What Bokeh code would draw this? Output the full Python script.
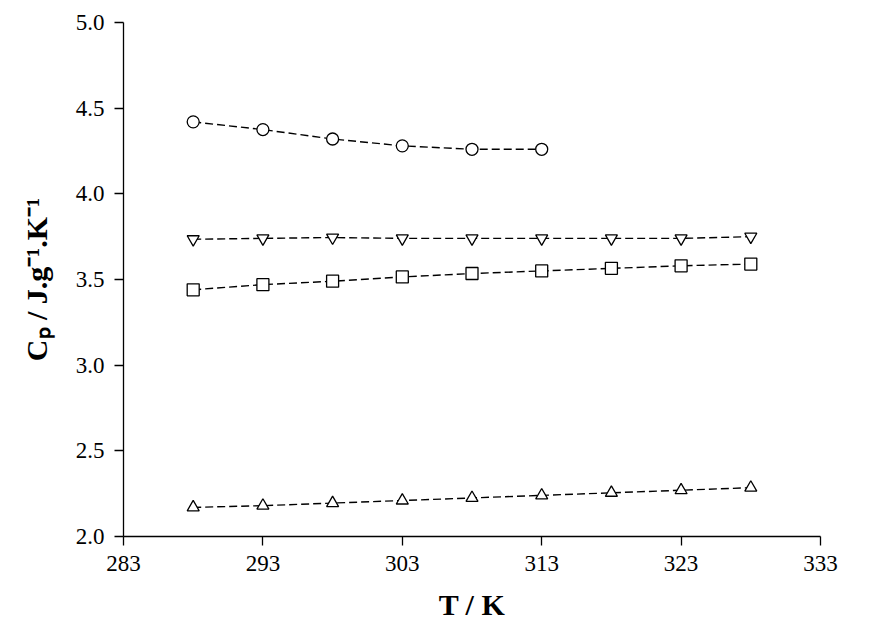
from bokeh.plotting import figure
from bokeh.models import Range1d, FixedTicker, NumeralTickFormatter
from bokeh.embed import file_html
from bokeh.resources import INLINE

T = [288, 293, 298, 303, 308, 313, 318, 323, 328]
circles = [4.42, 4.375, 4.32, 4.28, 4.26, 4.26]
tri_down = [3.735, 3.74, 3.745, 3.74, 3.74, 3.74, 3.74, 3.74, 3.75]
squares = [3.44, 3.47, 3.49, 3.515, 3.535, 3.55, 3.565, 3.58, 3.59]
tri_up = [2.17, 2.18, 2.195, 2.21, 2.225, 2.24, 2.255, 2.27, 2.285]

x_ticks = [283, 293, 303, 313, 323, 333]
y_ticks = [2.0, 2.5, 3.0, 3.5, 4.0, 4.5, 5.0]

p = figure(width=854, height=623, output_backend="svg", toolbar_location=None,
           x_range=Range1d(283, 333), y_range=Range1d(2.0, 5.0),
           min_border_left=123, min_border_right=34, min_border_top=22, min_border_bottom=60)
p.outline_line_color = None
p.grid.visible = False
p.xaxis.ticker = FixedTicker(ticks=x_ticks)
p.yaxis.ticker = FixedTicker(ticks=y_ticks)
p.yaxis.formatter = NumeralTickFormatter(format="0.0")

for ax in (p.xaxis, p.yaxis):
    ax.axis_line_color = "black"
    ax.axis_line_width = 1.3
    ax.major_tick_line_color = "black"
    ax.major_tick_line_width = 1.3
    ax.minor_tick_line_color = None
    ax.major_tick_in = 0
    ax.major_tick_out = 9
    ax.major_label_text_font = "Liberation Serif"
    ax.major_label_text_font_size = "23px"
    ax.major_label_text_color = "black"
    ax.axis_label_text_font = "Liberation Serif"
    ax.axis_label_text_font_size = "30px"
    ax.axis_label_text_font_style = "bold"
    ax.axis_label_text_color = "black"

p.xaxis.major_label_standoff = 10
p.yaxis.major_label_standoff = 10
p.xaxis.axis_label = "T / K"
p.xaxis.axis_label_standoff = 14
p.yaxis.axis_label = "Cₚ / J.g⁻¹.K⁻¹"
p.yaxis.axis_label_standoff = 20

series = [(T[:len(circles)], circles, "circle"),
          (T, tri_down, "inverted_triangle"),
          (T, squares, "square"),
          (T, tri_up, "triangle")]
for xs, ys, m in series:
    p.line(xs, ys, line_color="black", line_dash="8 4", line_width=1.4)
    p.scatter(xs, ys, marker=m, size=12, fill_color="white", line_color="black", line_width=1.3)

open("out.html", "w").write(file_html(p, INLINE))
